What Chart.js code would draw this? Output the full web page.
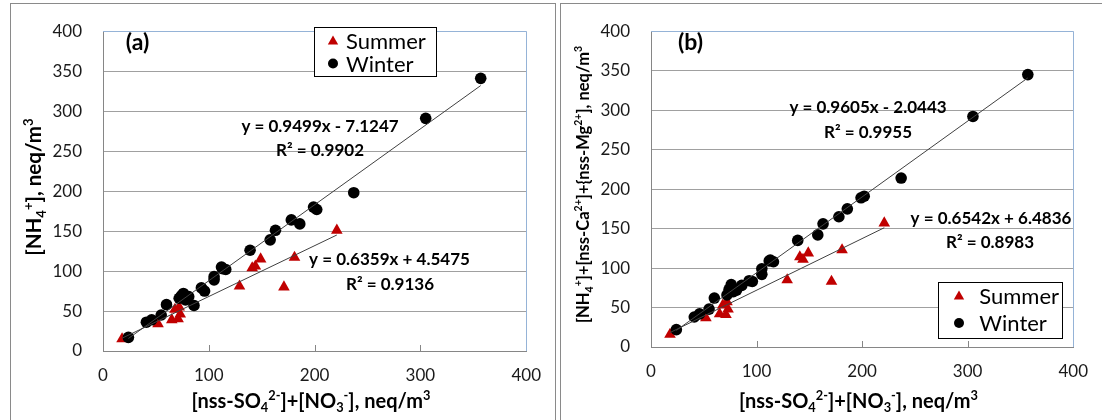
<!DOCTYPE html>
<html>
<head>
<meta charset="utf-8">
<script src="https://cdn.jsdelivr.net/npm/chart.js@4.4.1/dist/chart.umd.min.js"></script>
<style>
  body { margin: 0; background: #fff; width: 1102px; height: 420px; overflow: hidden; position: relative; }
  .frame { position: absolute; border: 1px solid #8a8a8a; }
  canvas { position: absolute; top: 0; }
</style>
</head>
<body>
<div class="frame" style="left:10px; top:3px; width:544px; height:440px"></div>
<div class="frame" style="left:560px; top:3px; width:600px; height:440px"></div>
<canvas id="chartA" width="555" height="420" style="left:0"></canvas>
<canvas id="chartB" width="546" height="420" style="left:556px"></canvas>
<script>
// data (x = nss-SO4 + NO3, same samples in both panels)
const summerX = [18, 52, 65, 71, 73, 68, 72, 129, 171, 141, 144, 149, 181, 221];
const summerA = [15, 34, 39, 40, 46, 52, 55, 81, 80, 104, 106, 115, 117, 151];
const summerB = [16, 37, 42, 41, 48, 53, 57, 85, 83, 114, 111, 119, 123, 157];

const winterX = [24, 41, 46, 55, 60, 72, 74, 76, 78, 81, 86, 93, 96, 105, 105, 112, 113, 116, 139, 158, 163, 178, 186, 199, 202, 237, 305, 357];
const winterA = [17, 36, 39, 45, 58, 66, 69, 72, 64, 68, 57, 79, 75, 93, 89, 105, 103, 102, 126, 139, 151, 164, 159, 180, 177, 198, 291, 341];
const winterB = [22, 38, 42, 48, 62, 66, 73, 79, 70, 72, 78, 84, 83, 92, 99, 109, 110, 108, 135, 142, 156, 165, 175, 189, 191, 214, 292, 345];

// trendlines as printed on the chart: [slope, intercept]
const fitWinterA = [0.9499, -7.1247];
const fitSummerA = [0.6359, 4.5475];
const fitWinterB = [0.9605, -2.0443];
const fitSummerB = [0.6542, 6.4836];

const xTicks = [0, 100, 200, 300, 400];
const yTicks = [0, 50, 100, 150, 200, 250, 300, 350, 400];
const seriesNames = ['Summer', 'Winter'];

const eqTextA = ['y = 0.9499x - 7.1247', 'R² = 0.9902', 'y = 0.6359x + 4.5475', 'R² = 0.9136'];
const eqTextB = ['y = 0.9605x - 2.0443', 'R² = 0.9955', 'y = 0.6542x + 6.4836', 'R² = 0.8983'];

// rich titles: [text, 0 normal | -1 sub | 1 sup]
const xTitle = [['[nss-SO', 0], ['4', -1], ['2-', 1], [']+[NO', 0], ['3', -1], ['-', 1], ['], neq/m', 0], ['3', 1]];
const yTitleA = [['[NH', 0], ['4', -1], ['+', 1], ['], neq/m', 0], ['3', 1]];
const yTitleB = [['[NH', 0], ['4', -1], ['+', 1], [']+[nss-Ca', 0], ['2+', 1], [']+{nss-Mg', 0], ['2+', 1], ['], neq/m', 0], ['3', 1]];

const RED = '#c00000';
const FONT = 'Lato, "Open Sans", sans-serif';

function drawRich(ctx, parts, x, y, size) {
  let w = 0;
  const pieces = parts.map(([t, m]) => {
    const s = m ? size * 0.64 : size;
    ctx.font = 'bold ' + s + 'px ' + FONT;
    const pw = ctx.measureText(t).width;
    w += pw;
    return { t, m, s, pw };
  });
  let cx = x - w / 2;
  ctx.textAlign = 'left';
  ctx.textBaseline = 'alphabetic';
  pieces.forEach(p => {
    ctx.font = 'bold ' + p.s + 'px ' + FONT;
    const dy = p.m === -1 ? size * 0.22 : p.m === 1 ? -size * 0.4 : 0;
    ctx.fillText(p.t, cx, y + dy);
    cx += p.pw;
  });
}

function marker(ctx, style, x, y, r, color) {
  ctx.fillStyle = color;
  ctx.beginPath();
  if (style === 'triangle') {
    ctx.moveTo(x, y - r);
    ctx.lineTo(x + r * 0.866, y + r * 0.5);
    ctx.lineTo(x - r * 0.866, y + r * 0.5);
    ctx.closePath();
  } else {
    ctx.arc(x, y, r, 0, Math.PI * 2);
  }
  ctx.fill();
}

function makePanel(cfg) {
  const canvas = document.getElementById(cfg.id);
  const W = canvas.width, H = canvas.height;
  const L = cfg.area;

  const fitLine = (xs, fit) => {
    const lo = Math.min(...xs), hi = Math.max(...xs);
    return [{ x: lo, y: fit[0] * lo + fit[1] }, { x: hi, y: fit[0] * hi + fit[1] }];
  };

  const decor = {
    id: 'decor',
    beforeDatasetsDraw(chart) {
      const ctx = chart.ctx, a = chart.chartArea, xs = chart.scales.x;
      ctx.save();
      // small inside tick marks on the x axis
      ctx.strokeStyle = '#868686';
      ctx.lineWidth = 1;
      xTicks.slice(1, -1).forEach(v => {
        const px = Math.round(xs.getPixelForValue(v)) + 0.5;
        ctx.beginPath();
        ctx.moveTo(px, a.bottom - 6);
        ctx.lineTo(px, a.bottom);
        ctx.stroke();
      });
      // light blue plot-area edge, top and right
      ctx.strokeStyle = '#95b3d7';
      ctx.beginPath();
      ctx.moveTo(a.left, Math.round(a.top) + 0.5);
      ctx.lineTo(Math.round(a.right) + 0.5, Math.round(a.top) + 0.5);
      ctx.lineTo(Math.round(a.right) + 0.5, a.bottom);
      ctx.stroke();
      ctx.restore();
    },
    afterDraw(chart) {
      const ctx = chart.ctx;
      ctx.save();
      ctx.fillStyle = '#000';
      // panel tag
      ctx.font = 'bold 23px ' + FONT;
      ctx.textAlign = 'center';
      ctx.textBaseline = 'alphabetic';
      ctx.fillText(cfg.tag, cfg.tagPos[0], cfg.tagPos[1]);
      // equations
      ctx.font = 'bold 17px ' + FONT;
      cfg.eq.forEach((t, i) => ctx.fillText(t, cfg.eqPos[i][0], cfg.eqPos[i][1]));
      // axis titles
      drawRich(ctx, xTitle, cfg.xTitlePos[0], cfg.xTitlePos[1], 20);
      ctx.save();
      ctx.translate(cfg.yTitlePos[0], cfg.yTitlePos[1]);
      ctx.rotate(-Math.PI / 2);
      drawRich(ctx, cfg.yTitle, 0, 0, cfg.yTitleSize);
      ctx.restore();
      // legend
      const b = cfg.legend.box;
      ctx.fillStyle = '#fff';
      ctx.fillRect(b[0], b[1], b[2] - b[0], b[3] - b[1]);
      ctx.strokeStyle = '#000';
      ctx.lineWidth = 1;
      ctx.strokeRect(Math.round(b[0]) + 0.5, Math.round(b[1]) + 0.5, Math.round(b[2] - b[0]), Math.round(b[3] - b[1]));
      ctx.font = '22px ' + FONT;
      ctx.textAlign = 'left';
      seriesNames.forEach((name, i) => {
        const ry = cfg.legend.rows[i];
        if (i === 0) marker(ctx, 'triangle', cfg.legend.mx, ry + 1, 6, RED);
        else marker(ctx, 'circle', cfg.legend.mx, ry, 5, '#000');
        ctx.fillStyle = '#000';
        ctx.fillText(name, cfg.legend.tx, ry + 8);
      });
      ctx.restore();
    }
  };

  const axisFont = { family: FONT, size: 17 };
  return new Chart(canvas, {
    type: 'scatter',
    data: {
      datasets: [
        { label: 'fitW', data: fitLine(winterX, cfg.fitW), showLine: true, borderColor: '#404040', borderWidth: 1, pointRadius: 0, order: 0 },
        { label: 'fitS', data: fitLine(summerX, cfg.fitS), showLine: true, borderColor: '#404040', borderWidth: 1, pointRadius: 0, order: 0 },
        { label: seriesNames[0], data: summerX.map((x, i) => ({ x, y: cfg.summer[i] })), pointStyle: 'triangle', pointRadius: 6.7, backgroundColor: RED, borderWidth: 0, order: 2 },
        { label: seriesNames[1], data: winterX.map((x, i) => ({ x, y: cfg.winter[i] })), pointStyle: 'circle', pointRadius: 5.8, backgroundColor: '#000', borderWidth: 0, order: 1 }
      ]
    },
    options: {
      responsive: false,
      animation: false,
      devicePixelRatio: 1,
      layout: { padding: { left: 0, top: L.top, right: W - L.right, bottom: 0 } },
      plugins: { legend: { display: false }, tooltip: { enabled: false } },
      scales: {
        x: {
          type: 'linear', min: 0, max: 400,
          afterFit: s => { s.height = H - L.bottom; },
          afterBuildTicks: s => { s.ticks = xTicks.map(v => ({ value: v })); },
          grid: { display: false, drawTicks: false },
          border: { color: '#868686', width: 1 },
          ticks: { padding: 14, font: axisFont, color: '#1a1a1a', maxRotation: 0 }
        },
        y: {
          type: 'linear', min: 0, max: 400,
          afterFit: s => { s.width = L.left; },
          afterBuildTicks: s => { s.ticks = yTicks.map(v => ({ value: v })); },
          grid: { color: '#a0a0a0', lineWidth: 1, drawTicks: false },
          border: { color: '#868686', width: 1 },
          ticks: { padding: 21, font: axisFont, color: '#1a1a1a' }
        }
      }
    },
    plugins: [decor]
  });
}

makePanel({
  id: 'chartA', tag: '(a)', tagPos: [137.5, 50],
  area: { left: 103, top: 15, right: 532, bottom: 351 },
  summer: summerA, winter: winterA, fitW: fitWinterA, fitS: fitSummerA,
  eq: eqTextA, eqPos: [[320, 132], [320, 156], [389.5, 265], [390, 290]],
  xTitlePos: [311, 408], yTitle: yTitleA, yTitlePos: [41, 187], yTitleSize: 20.5,
  legend: { box: [314, 27, 436, 76], rows: [40.5, 63.5], mx: 333, tx: 346 }
});

makePanel({
  id: 'chartB', tag: '(b)', tagPos: [134.5, 50],
  area: { left: 95, top: 16, right: 524, bottom: 347 },
  summer: summerB, winter: winterB, fitW: fitWinterB, fitS: fitSummerB,
  eq: eqTextB, eqPos: [[312, 113], [312, 138], [435, 224], [434, 248]],
  xTitlePos: [302.5, 408], yTitle: yTitleB, yTitlePos: [33, 184.5], yTitleSize: 16.5,
  legend: { box: [382.3, 281.7, 506.7, 337.3], rows: [295.5, 323], mx: 403, tx: 423.3 }
});
</script>
</body>
</html>
